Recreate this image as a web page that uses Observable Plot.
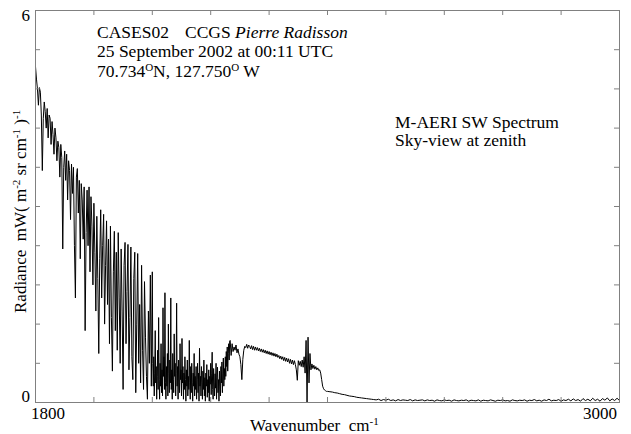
<!DOCTYPE html>
<html>
<head>
<meta charset="utf-8">
<script src="https://cdn.jsdelivr.net/npm/d3@7"></script>
<script src="https://cdn.jsdelivr.net/npm/@observablehq/plot@0.6"></script>
<style>
  html, body { margin: 0; padding: 0; background: #fff; }
  #chart svg { background: #fff; }
  #chart svg text.lbl { font-family: "Liberation Serif", "Times New Roman", serif; fill: #000; white-space: pre; }
</style>
</head>
<body>
<div id="chart"></div>
<script>
// M-AERI shortwave sky spectrum, sampled on regular wavenumber grids (cm-1)
// Water-vapour band, 1800-2038 cm-1
const h2oBandStart = 1800, h2oBandStep = 2;
const h2oBandRadiance = [
  5.14,4.95,4.80,4.55,4.82,4.75,4.40,3.55,4.35,4.60, 4.45,4.20,4.50,4.05,4.40,4.35,3.95,4.30,4.10,3.80,
  4.20,4.05,3.70,4.00,3.90,3.45,3.95,3.75,2.35,3.60,
  3.85,3.40,3.80,3.10,3.70,3.55,2.80,3.65,3.20,3.60, 2.40,1.60,3.45,3.58,2.90,3.40,2.20,3.35,3.10,2.50,
  3.30,1.10,2.60,3.25,2.40,3.30,2.00,3.15,2.70,1.80,
  3.05,2.30,1.40,2.85,1.90,0.75,2.20,2.95,1.60,2.40, 2.88,1.20,2.10,2.78,1.50,2.50,0.90,2.70,1.30,0.48,
  2.00,2.62,1.10,2.30,0.80,2.60,1.60,0.60,2.35,1.40,
  0.20,2.10,2.45,0.90,1.70,2.42,0.50,1.30,2.38,0.70, 0.35,1.90,2.30,0.15,1.20,2.28,0.60,1.50,0.30,2.10,
  0.80,0.20,1.85,1.00,0.40,0.05,1.40,0.60,1.95,0.25
];
// Band wing, 2040-2199 cm-1, finer sampling
const wingStart = 2040, wingStep = 1;
const wingRadiance = [
  2.00,0.60,0.25,0.70,0.10,0.45,1.10,0.30,0.55,0.05,
  0.40,0.80,0.20,1.30,0.35,0.05,0.60,0.25,0.90,0.15,
  0.50,0.10,1.45,0.40,0.70,0.20,1.68,0.30,0.05,0.55,
  0.25,0.75,0.10,1.20,0.45,0.15,0.65,0.30,1.60,0.20,
  0.50,0.05,0.75,0.35,0.15,1.05,0.40,0.60,0.10,0.45,
  1.52,0.25,0.55,0.05,0.65,0.30,0.15,0.90,0.35,0.50,
  0.10,0.98,0.30,0.55,0.05,0.45,0.20,0.70,0.35,0.02,
  0.50,0.25,0.65,0.10,0.40,0.20,0.95,0.30,0.05,0.55,
  0.15,0.60,0.30,0.02,0.45,0.25,0.75,0.10,0.40,0.20,
  0.55,0.05,0.35,0.60,0.15,0.45,0.02,0.83,0.25,0.40,
  0.10,0.55,0.30,0.05,0.48,0.20,0.65,0.10,0.38,0.02,
  0.45,0.25,0.58,0.08,0.35,0.15,0.50,0.02,0.40,0.28,
  0.60,0.12,0.45,0.77,0.20,0.05,0.52,0.30,0.10,0.44,
  0.22,0.60,0.05,0.38,0.54,0.15,0.35,0.02,0.48,0.25,
  0.10,0.55,0.30,0.62,0.15,0.45,0.68,0.25,0.52,0.35,
  0.70,0.40,0.78,0.55,0.85,0.48,0.75,0.90,0.65,0.94
];
// CO2 4.3 um band, 2200-2398 cm-1
const co2BandStart = 2200, co2BandStep = 2;
const co2BandRadiance = [
  0.95,0.72,0.90,0.78,0.85,0.80,0.88,0.76,0.82,0.74,
  0.70,0.58,0.35,0.66,0.80,0.86,0.84,0.89,0.83,0.88,
  0.86,0.82,0.87,0.81,0.86,0.80,0.85,0.80,0.84,0.79,
  0.83,0.78,0.82,0.77,0.81,0.76,0.80,0.75,0.79,0.74,
  0.78,0.73,0.77,0.72,0.76,0.71,0.75,0.70,0.74,0.69,
  0.72,0.67,0.71,0.66,0.70,0.64,0.69,0.63,0.68,0.62,
  0.67,0.60,0.66,0.59,0.65,0.58,0.64,0.58,0.50,0.34,
  0.64,0.57,0.63,0.55,0.65,0.54,0.70,0.45,0.95,0.00,
  1.00,0.30,0.75,0.50,0.59,0.52,0.57,0.51,0.55,0.50,
  0.53,0.49,0.50,0.45,0.35,0.25,0.21,0.19,0.18,0.17
];
// Window region, 2400-3000 cm-1
const windowStart = 2400, windowStep = 5;
const windowRadiance = [
  0.17,0.165,0.16,0.15,0.145,0.135,0.125,0.12,0.11,0.10,0.095,0.09,0.08,0.075,0.07,0.065,0.06,0.055,0.05,0.045,
  0.04,0.05,0.03,0.045,0.035,0.05,0.03,0.04,0.025,0.045,0.03,0.04,0.035,0.03,0.045,0.025,0.04,0.03,0.035,0.04,
  0.025,0.04,0.03,0.035,0.02,0.04,0.03,0.025,0.04,0.03,0.035,0.02,0.04,0.03,0.025,0.035,0.03,0.04,0.02,0.035,
  0.03,0.025,0.04,0.02,0.035,0.03,0.025,0.04,0.03,0.02,0.035,0.03,0.04,0.025,0.03,0.02,0.04,0.03,0.025,0.035,
  0.03,0.04,0.02,0.035,0.03,0.045,0.025,0.035,0.02,0.04,0.03,0.05,0.025,0.035,0.03,0.045,0.02,0.04,0.03,0.05,
  0.025,0.055,0.03,0.045,0.02,0.06,0.03,0.05,0.025,0.065,0.03,0.05,0.02,0.06,0.035,0.07,0.025,0.055,0.03,0.065,
  0.03
];

// Axis ticks and labels
const xTicks = [1800,1920,2040,2160,2280,2400,2520,2640,2760,2880,3000];
const yTicks = [0,0.6,1.2,1.8,2.4,3,3.6,4.2,4.8,5.4,6];
const xTickLabels = [1800, 3000];
const yTickLabels = [0, 6];

// Assemble the spectrum table from the segments
function segment(start, step, values) {
  return values.map((rad, i) => ({wn: start + i * step, rad}));
}
const spectrum = [
  ...segment(h2oBandStart, h2oBandStep, h2oBandRadiance),
  ...segment(wingStart, wingStep, wingRadiance),
  ...segment(co2BandStart, co2BandStep, co2BandRadiance),
  ...segment(windowStart, windowStep, windowRadiance)
];

// Layout
const W = 631, H = 434;
const margin = {top: 10, right: 12, bottom: 32, left: 35};
const frameW = W - margin.left - margin.right;
const frameH = H - margin.top - margin.bottom;
const tickLen = 5;
const axisGray = "#808080";

const plot = Plot.plot({
  width: W, height: H,
  marginTop: margin.top, marginRight: margin.right, marginBottom: margin.bottom, marginLeft: margin.left,
  x: {domain: [1800, 3000], axis: null},
  y: {domain: [0, 6], axis: null},
  marks: [
    Plot.line(spectrum, {x: "wn", y: "rad", stroke: "#000", strokeWidth: 1}),
    Plot.tickX(xTicks, {x: d => d, insetTop: frameH - tickLen, stroke: axisGray}),
    Plot.tickX(xTicks, {x: d => d, insetBottom: frameH - tickLen, stroke: axisGray}),
    Plot.tickY(yTicks, {y: d => d, insetRight: frameW - tickLen, stroke: axisGray}),
    Plot.tickY(yTicks, {y: d => d, insetLeft: frameW - tickLen, stroke: axisGray}),
    Plot.frame({stroke: axisGray})
  ]
});

const xs = plot.scale("x"), ys = plot.scale("y");
const fx = d3.scaleLinear(xs.domain, xs.range);
const fy = d3.scaleLinear(ys.domain, ys.range);
const svg = d3.select(plot);
const fs = 17;

// Text with optional raised runs: parts are [text, style] pairs, style "sup" or "it"
function rich(sel, parts) {
  let raised = false;
  parts.forEach(([s, kind, x]) => {
    const t = sel.append("tspan").text(s);
    if (x !== undefined) t.attr("x", x);
    if (kind === "sup") {
      t.attr("dy", raised ? 0 : -6).style("font-size", "11px");
      raised = true;
    } else {
      if (raised) t.attr("dy", 6);
      raised = false;
      if (kind === "it") t.style("font-style", "italic");
    }
  });
  return sel;
}
function label(x, y, anchor, size) {
  return svg.append("text").attr("class", "lbl").attr("x", x).attr("y", y)
    .attr("text-anchor", anchor || "start").style("font-size", (size || fs) + "px");
}

// Tick labels
xTickLabels.forEach((v, i) => {
  label(fx(v) + (i === 0 ? -4 : -2), H - 15, i === 0 ? "start" : "end").text(v);
});
yTickLabels.forEach((v, i) => {
  label(margin.left - 5, fy(v) + (i === 0 ? 0 : 11), "end").text(v);
});

// Axis titles
rich(label(250, 431), [["Wavenumber  cm"], ["-1", "sup"]]);

const yt = svg.append("text").attr("class", "lbl")
  .attr("text-anchor", "start")
  .attr("transform", "translate(25.5,313) rotate(-90)")
  .style("font-size", fs + "px");
rich(yt, [["Radiance  mW( m"], ["-2", "sup"], [" sr cm"], ["-1", "sup"], [" )"], ["-1", "sup"]]);

// Annotations
const fa = 17.5;
rich(label(97, 38, "start", fa), [["CASES02"], ["CCGS ", null, 185], ["Pierre Radisson", "it"]]);
label(97, 57, "start", fa).text("25 September 2002 at 00:11 UTC");
rich(label(97, 77, "start", fa), [["70.734"], ["O", "sup"], ["N, 127.750"], ["O", "sup"], [" W"]]);
label(395, 127.5, "start", fa).text("M-AERI SW Spectrum");
label(395, 146, "start", fa).text("Sky-view at zenith");

document.getElementById("chart").appendChild(plot);
</script>
</body>
</html>
